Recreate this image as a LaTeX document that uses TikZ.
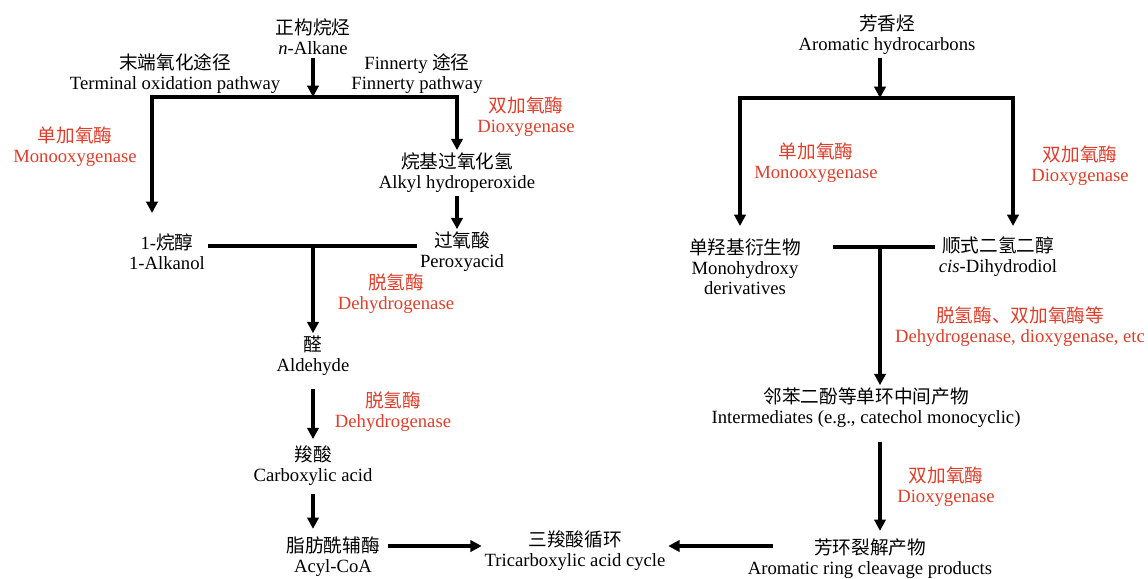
\documentclass[tikz,border=0pt]{standalone}
\usepackage{fontspec}
\setmainfont{Liberation Serif}
\newfontfamily\zhfont{Noto Sans CJK SC}
\usetikzlibrary{arrows.meta}
\definecolor{enzred}{RGB}{224,62,42}

\begin{document}
\begin{tikzpicture}[x=0.75pt,y=-0.75pt,
		txt/.style={align=center,inner sep=2pt,font=\fontsize{14}{15}\selectfont},
		enz/.style={txt,text=enzred},
		thickline/.style={line width=2.6pt},
		arr/.style={thickline,-{Triangle[length=8.5pt,width=8.5pt]}}]
			\useasboundingbox (0,0) rectangle (1148,578);
			%%Alkane pathway
			\node[txt] (nalk) at (313,37) {{\zhfont 正构烷烃}\\\textit{n}-Alkane};
			\node[txt] (term) at (175,74) {{\zhfont 末端氧化途径}\\Terminal oxidation pathway};
			\node[txt] (finn) at (417,74) {Finnerty {\zhfont 途径}\\Finnerty pathway};
			\node[enz] (mono1) at (75,147) {{\zhfont 单加氧酶}\\Monooxygenase};
			\node[enz] (diox1) at (526,117) {{\zhfont 双加氧酶}\\Dioxygenase};
			\node[txt] (ahp) at (457,173) {{\zhfont 烷基过氧化氢}\\Alkyl hydroperoxide};
			\node[txt] (alkanol) at (167,252) {1-{\zhfont 烷醇}\\1-Alkanol};
			\node[txt] (perox) at (462,252) {{\zhfont 过氧酸}\\Peroxyacid};
			\node[enz] (dehy1) at (396,294) {{\zhfont 脱氢酶}\\Dehydrogenase};
			\node[txt] (ald) at (313,356) {{\zhfont 醛}\\Aldehyde};
			\node[enz] (dehy2) at (393,412) {{\zhfont 脱氢酶}\\Dehydrogenase};
			\node[txt] (carb) at (313,466) {{\zhfont 羧酸}\\Carboxylic acid};
			\node[txt] (acyl) at (333,557) {{\zhfont 脂肪酰辅酶}\\Acyl-CoA};
			\node[txt] (tca) at (575,551) {{\zhfont 三羧酸循环}\\Tricarboxylic acid cycle};
			%%Aromatic pathway
			\node[txt] (arh) at (887,35) {{\zhfont 芳香烃}\\Aromatic hydrocarbons};
			\node[enz] (mono2) at (816,163) {{\zhfont 单加氧酶}\\Monooxygenase};
			\node[enz] (diox2) at (1080,166) {{\zhfont 双加氧酶}\\Dioxygenase};
			\node[txt] (monoh) at (745,267) {{\zhfont 单羟基衍生物}\\Monohydroxy\\derivatives};
			\node[txt] (cisd) at (998,257) {{\zhfont 顺式二氢二醇}\\\textit{cis}-Dihydrodiol};
			\node[enz] (dehy3) at (1020,327) {{\zhfont 脱氢酶、双加氧酶等}\\Dehydrogenase, dioxygenase, etc};
			\node[txt] (inter) at (866,408) {{\zhfont 邻苯二酚等单环中间产物}\\Intermediates (e.g., catechol monocyclic)};
			\node[enz] (diox3) at (946,487) {{\zhfont 双加氧酶}\\Dioxygenase};
			\node[txt] (ring) at (870,559) {{\zhfont 芳环裂解产物}\\Aromatic ring cleavage products};
			%%Branch points
			\coordinate (split1) at (313,97);
			\coordinate (tipL1) at (152,213);
			\coordinate (split2) at (313,246);
			\coordinate (split3) at (880,98);
			\coordinate (tipL3) at (740,226);
			\coordinate (tipR3) at (1013,226);
			\coordinate (split4) at (880,247);
			\coordinate (ringL) at (773,546);
			%%Arrows, left
			\draw[arr] (nalk) -- (split1);
			\draw[arr] (split1) -| (tipL1);
			\draw[arr] (split1) -| (split1 -| ahp.north) -- (ahp.north);
			\draw[arr] (ahp) -- (ahp |- perox.north);
			\draw[thickline] (split2 -| alkanol.east) -- (split2 -| perox.west);
			\draw[arr] (split2) -- (ald);
			\draw[arr,shorten <=8pt,shorten >=3pt] (ald) -- (carb);
			\draw[arr,shorten <=4pt,shorten >=4pt] (carb) -- (carb |- acyl.north);
			\draw[arr,shorten <=4pt] (acyl.east |- ringL) -- (tca.west |- ringL);
			%%Arrows, right
			\draw[arr] (arh.south -| split3) -- (split3);
			\draw[arr] (split3) -| (tipL3);
			\draw[arr] (split3) -| (tipR3);
			\draw[thickline] (split4 -| 833,0) -- (split4 -| 935,0);
			\draw[arr] (split4) -- (split4 |- inter.north) ;
			\draw[arr,shorten <=8pt,shorten >=4pt] (inter.south -| split4) -- (ring.north -| split4);
			\draw[arr] (ringL) -- (tca.east |- ringL);
\end{tikzpicture}
\end{document}
